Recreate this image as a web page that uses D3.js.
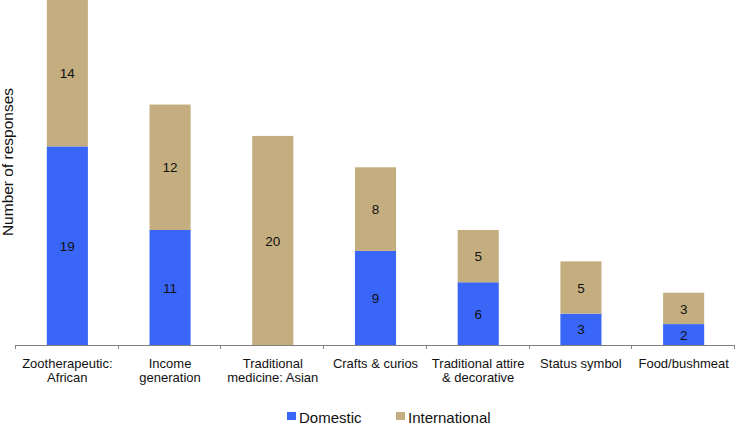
<!DOCTYPE html>
<html>
<head>
<meta charset="utf-8">
<script src="https://cdn.jsdelivr.net/npm/d3@7"></script>
<style>
  html, body { margin: 0; padding: 0; background: #fff; }
  svg { display: block; font-family: "Liberation Sans", Arial, sans-serif; }
</style>
</head>
<body>
<svg id="chart" width="735" height="424"></svg>
<script>
const categories = [
  ["Zootherapeutic:", "African"],
  ["Income", "generation"],
  ["Traditional", "medicine: Asian"],
  ["Crafts & curios"],
  ["Traditional attire", "& decorative"],
  ["Status symbol"],
  ["Food/bushmeat"]
];
const domestic = [19, 11, 0, 9, 6, 3, 2];
const international = [14, 12, 20, 8, 5, 5, 3];
const seriesNames = ["Domestic", "International"];
const colors = ["#3a66f8", "#c4ae80"];

const svg = d3.select("#chart");
const left = 16, right = 735, baseY = 345, topY = 0;

const keys = categories.map((c, i) => i);
const x = d3.scaleBand().domain(keys).range([left, right]).padding(0);
const y = d3.scaleLinear().domain([0, 33]).range([baseY, topY]);
const barW = x.bandwidth() * 0.4;

const rows = keys.map(i => ({ i, Domestic: domestic[i], International: international[i] }));
const stack = d3.stack().keys(seriesNames)(rows);

const g = svg.append("g");
stack.forEach((layer, li) => {
  const lg = g.append("g");
  layer.forEach(d => {
    const v = d[1] - d[0];
    if (v <= 0) return;
    const cx = x(d.data.i) + x.bandwidth() / 2;
    lg.append("rect")
      .attr("x", cx - barW / 2)
      .attr("y", y(d[1]))
      .attr("width", barW)
      .attr("height", y(d[0]) - y(d[1]))
      .attr("fill", colors[li]);
    lg.append("text")
      .attr("x", cx)
      .attr("y", (y(d[0]) + y(d[1])) / 2)
      .attr("dy", "0.38em")
      .attr("text-anchor", "middle")
      .attr("font-size", 13.5)
      .attr("fill", "#111")
      .text(v);
  });
});

// x axis
const axis = svg.append("g");
axis.append("line")
  .attr("x1", left).attr("x2", right)
  .attr("y1", baseY + 0.5).attr("y2", baseY + 0.5)
  .attr("stroke", "#7f7f7f").attr("stroke-width", 1);
const boundaries = keys.map(i => x(i)).concat([right]);
axis.selectAll("line.tick").data(boundaries).enter().append("line")
  .attr("class", "tick")
  .attr("x1", d => Math.round(d) - 0.5).attr("x2", d => Math.round(d) - 0.5)
  .attr("y1", baseY).attr("y2", baseY + 4)
  .attr("stroke", "#7f7f7f").attr("stroke-width", 1);

categories.forEach((lines, i) => {
  const cx = x(i) + x.bandwidth() / 2;
  const t = axis.append("text")
    .attr("text-anchor", "middle")
    .attr("font-size", 13)
    .attr("fill", "#111");
  lines.forEach((ln, k) => {
    t.append("tspan").attr("x", cx).attr("y", 367.5 + k * 14).text(ln);
  });
});

// y label
svg.append("text")
  .attr("transform", `translate(13,${162}) rotate(-90)`)
  .attr("text-anchor", "middle")
  .attr("font-size", 15.5)
  .attr("fill", "#111")
  .text("Number of responses");

// legend
const legendItems = [
  { name: seriesNames[0], color: colors[0], x: 287 },
  { name: seriesNames[1], color: colors[1], x: 396 }
];
const leg = svg.append("g");
legendItems.forEach(it => {
  leg.append("rect").attr("x", it.x).attr("y", 412).attr("width", 9).attr("height", 8).attr("fill", it.color);
  leg.append("text").attr("x", it.x + 12).attr("y", 422.5)
    .attr("font-size", 15).attr("fill", "#111").text(it.name);
});
</script>
</body>
</html>
